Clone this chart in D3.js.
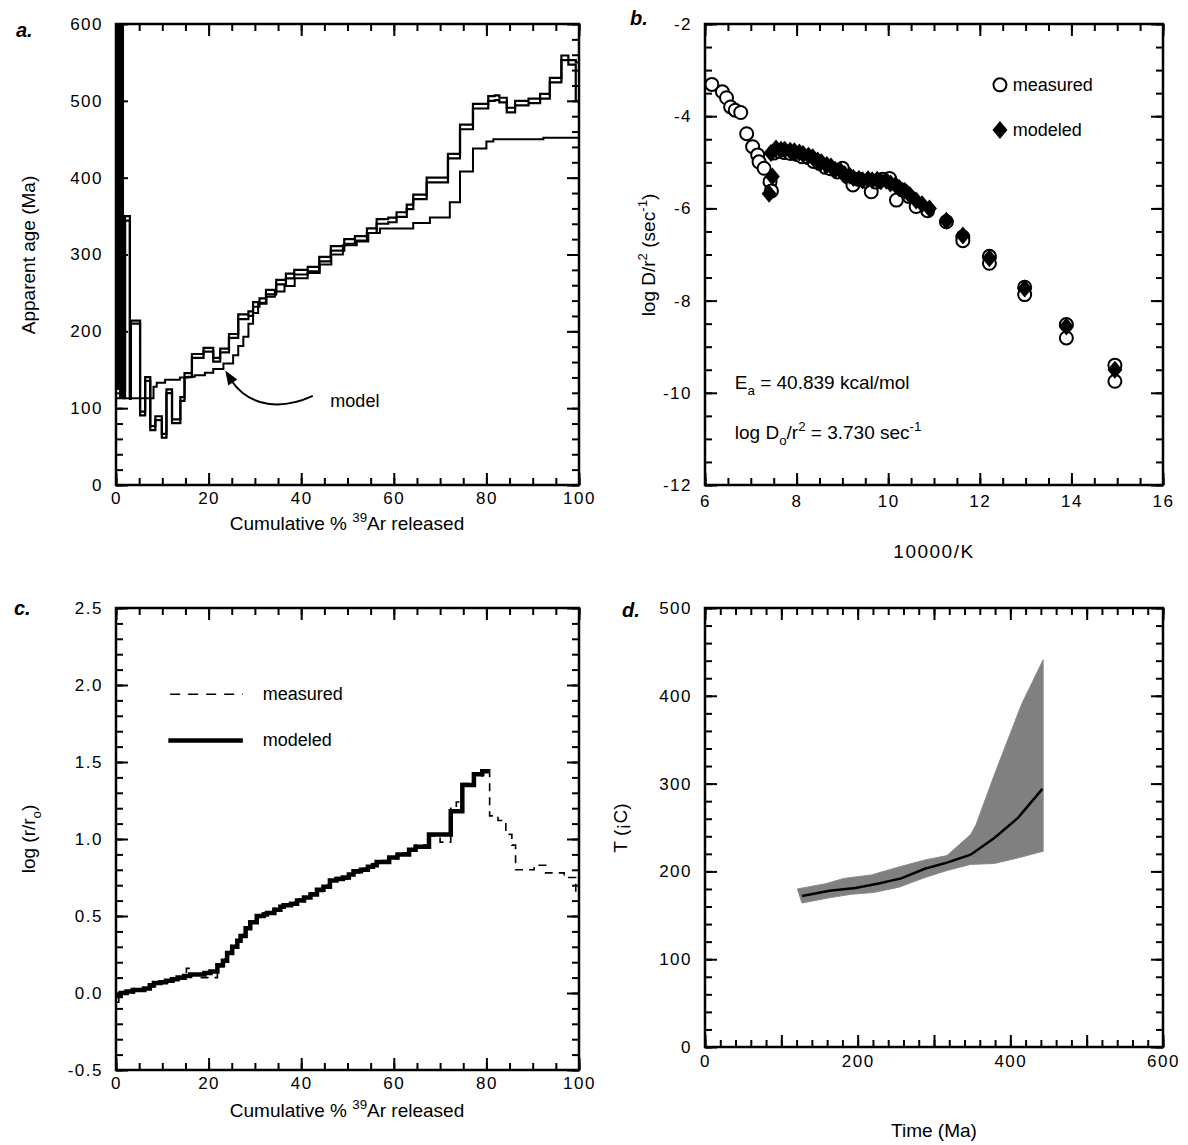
<!DOCTYPE html>
<html>
<head>
<meta charset="utf-8">
<script src="https://cdn.jsdelivr.net/npm/d3@7"></script>
<style>
  body { margin: 0; background: #fff; }
  text { font-family: "Liberation Sans", Arial, Helvetica, sans-serif; fill: #000; }
</style>
</head>
<body>
<script>

// ---------- Panel a: age spectrum ----------
// Measured steps: start of each step (cumulative % 39Ar), age (Ma), error (Ma)
var ageStepStart = [0, 0.15, 0.3, 0.45, 0.6, 0.75, 0.9, 1.05, 1.2, 1.35, 1.5, 1.65,
                    1.95, 3.0, 3.2, 5.2, 6.3, 7.4, 8.5, 9.9, 10.9, 12.1,
                    13.9, 14.8, 16.4, 18.9, 21.0, 22.5, 24.4, 26.4, 28.6, 29.6,
                    31.0, 32.4, 34.6, 36.7, 38.5, 41.4, 43.9, 46.4, 49.3, 51.6,
                    54.2, 56.3, 58.8, 60.6, 62.8, 64.2, 67.1, 71.7, 74.3, 77.1,
                    80.4, 81.8, 82.8, 84.4, 86.2, 89.1, 91.6, 93.7, 96.2, 97.7,
                    99.3];
var ageMeasured = [140, 1800, 135, 2500, 145, 1200, 130, 3000, 140, 900, 125, 116,
                   347, 114, 212, 93, 138, 74, 87, 64, 122, 83,
                   112, 143, 168, 176, 163, 175, 194, 219, 223, 235,
                   240, 251, 264, 272, 277, 281, 294, 308, 317, 321,
                   331, 343, 345, 352, 362, 375, 397, 428, 466, 493,
                   503, 504, 501, 488, 497, 500, 506, 527, 556, 550,
                   525];
var ageError = [8, 1600, 10, 2300, 5, 1000, 15, 2800, 8, 700, 10, 3,
                3, 2, 2, 2.5, 2.5, 2.5, 2.5, 2.5, 2.5, 2.5,
                2.5, 2.5, 2.5, 2.5, 2.5, 2.5, 2.5, 3, 3, 3,
                3, 3, 3, 3, 3, 3, 3, 3, 3, 3,
                3, 3, 3, 3, 3, 3, 3, 3, 3, 3,
                3, 3, 3, 3, 3, 3, 3, 3, 3, 3,
                25];
// Model spectrum
var modelStepStart = [0, 8.1, 8.8, 10.6, 13.8, 15.6, 17.0, 19.2, 21.0, 23.2,
                      25.3, 26.4, 27.5, 28.6, 29.6, 30.7, 32.5, 34.3, 36.4, 38.6,
                      41.4, 44.0, 46.5, 49.0, 52.0, 54.5, 57.0, 64.2, 67.8, 72.1,
                      74.3, 77.1, 80.0, 81.5, 92.3];
var modelAge = [113, 128, 133, 137, 140, 141, 143, 146, 151, 158,
                169, 181, 193, 210, 224, 236, 245, 252, 259, 269,
                276, 287, 300, 312, 317, 328, 334, 341, 348, 368,
                408, 438, 447, 450, 452];

// ---------- Panel b: Arrhenius plot ----------
var arrMeasuredX = [6.15, 6.38, 6.47, 6.56, 6.66, 6.78, 6.91, 7.04, 7.15, 7.18,
                    7.29, 7.42, 7.45, 7.50, 7.62, 7.74, 7.87, 8.01, 8.12, 8.26,
                    8.37, 8.51, 8.63, 8.74, 8.89, 9.00, 9.11, 9.23, 9.36, 9.49,
                    9.63, 9.74, 9.88, 10.03, 10.18, 10.31, 10.45, 10.61, 10.86, 11.27,
                    11.63, 11.63, 12.21, 12.21, 12.98, 12.98, 13.89, 13.89, 14.95, 14.95];
var arrMeasuredY = [-3.31, -3.47, -3.60, -3.80, -3.87, -3.92, -4.38, -4.66, -4.84, -4.99,
                    -5.13, -5.42, -5.62, -4.80, -4.76, -4.79, -4.81, -4.83, -4.88, -4.90,
                    -4.98, -5.03, -5.11, -5.14, -5.21, -5.13, -5.31, -5.49, -5.37, -5.41,
                    -5.64, -5.43, -5.37, -5.35, -5.82, -5.60, -5.74, -5.96, -6.05, -6.29,
                    -6.62, -6.70, -7.04, -7.19, -7.71, -7.87, -8.52, -8.81, -9.40, -9.75];
var arrModeledX = [7.40, 7.47, 7.44, 7.55, 7.66, 7.74, 7.86, 7.95, 8.06, 8.14,
                   8.26, 8.35, 8.46, 8.54, 8.66, 8.75, 8.84, 8.96, 9.05, 9.16,
                   9.24, 9.36, 9.44, 9.56, 9.65, 9.76, 9.84, 9.96, 10.05, 10.16,
                   10.24, 10.36, 10.47, 10.61, 10.74, 10.90, 11.27, 11.63, 12.21, 12.98,
                   13.89, 14.95];
var arrModeledY = [-5.68, -5.31, -4.80, -4.70, -4.73, -4.73, -4.75, -4.76, -4.79, -4.82,
                   -4.86, -4.89, -4.96, -5.00, -5.06, -5.09, -5.16, -5.19, -5.26, -5.29,
                   -5.34, -5.36, -5.39, -5.37, -5.39, -5.38, -5.41, -5.40, -5.46, -5.49,
                   -5.56, -5.62, -5.71, -5.83, -5.91, -6.00, -6.27, -6.59, -7.08, -7.74,
                   -8.56, -9.50];

// ---------- Panel c: log(r/ro) ----------
var radModeledStart = [0, 1.0, 2.3, 3.6, 5.0, 6.1, 7.3, 8.2, 9.6, 10.8,
                       12.1, 13.3, 14.7, 16.0, 17.6, 19.1, 20.4, 21.9, 23.1, 24.0,
                       25.1, 26.2, 26.9, 28.0, 29.0, 30.4, 31.9, 32.6, 34.2, 35.5,
                       36.2, 37.8, 39.1, 40.6, 42.0, 43.4, 44.8, 46.2, 47.6, 49.0,
                       50.3, 51.3, 52.9, 54.4, 55.5, 56.3, 57.6, 59.0, 60.8, 63.3,
                       64.7, 67.6, 72.3, 74.8, 77.3, 79.1];
var radModeled = [-0.02, 0.00, 0.01, 0.02, 0.02, 0.03, 0.05, 0.065, 0.07, 0.08,
                  0.09, 0.10, 0.11, 0.12, 0.12, 0.13, 0.14, 0.18, 0.21, 0.26,
                  0.30, 0.34, 0.37, 0.42, 0.46, 0.50, 0.51, 0.52, 0.54, 0.56,
                  0.57, 0.58, 0.60, 0.62, 0.64, 0.67, 0.69, 0.73, 0.74, 0.75,
                  0.77, 0.79, 0.80, 0.82, 0.83, 0.85, 0.85, 0.88, 0.90, 0.93,
                  0.95, 1.03, 1.18, 1.35, 1.42, 1.44];
var radModeledEnd = 80.7;
var radMeasuredStart = [0, 0.6, 1.5, 2.8, 4.0, 5.5, 7.0, 8.3, 9.5, 11.0,
                        12.5, 14.0, 15.2, 16.0, 17.5, 19.0, 20.5, 21.9, 23.1, 24.0,
                        25.1, 26.2, 26.9, 28.0, 29.0, 30.4, 31.9, 32.6, 34.2, 35.5,
                        36.2, 37.8, 39.1, 40.6, 42.0, 43.4, 44.8, 46.2, 47.6, 49.0,
                        50.3, 51.3, 52.9, 54.4, 55.5, 56.3, 57.6, 59.0, 60.8, 63.3,
                        64.7, 67.6, 70.0, 72.3, 73.5, 74.8, 77.3, 79.1, 80.7, 82.5,
                        84.2, 85.5, 86.3, 90.3, 92.8, 96.8, 99.3];
var radMeasured = [-0.06, 0.00, 0.01, 0.00, 0.03, 0.02, 0.04, 0.07, 0.08, 0.07,
                   0.10, 0.09, 0.16, 0.12, 0.10, 0.10, 0.10, 0.17, 0.22, 0.25,
                   0.31, 0.33, 0.38, 0.41, 0.47, 0.49, 0.52, 0.51, 0.55, 0.55,
                   0.58, 0.57, 0.61, 0.61, 0.65, 0.66, 0.70, 0.72, 0.75, 0.74,
                   0.78, 0.78, 0.81, 0.81, 0.84, 0.84, 0.86, 0.87, 0.91, 0.92,
                   0.96, 1.02, 0.98, 1.20, 1.24, 1.36, 1.41, 1.45, 1.15, 1.12,
                   1.03, 0.96, 0.80, 0.83, 0.78, 0.75, 0.65];
var radMeasuredEnd = 100;

// ---------- Panel d: thermal history ----------
var histTime = [127, 163, 197, 226, 257, 288, 317, 348, 379, 410, 442];
var histTemp = [172, 178, 181, 186, 192, 203, 210, 219, 238, 261, 294];
var bandUpperTime = [121, 158, 182, 218, 254, 288, 317, 348, 355, 379, 415, 443];
var bandUpperTemp = [180, 186, 192, 196, 205, 213, 218, 242, 253, 310, 391, 441];
var bandLowerTime = [127, 163, 192, 221, 254, 288, 317, 348, 379, 413, 443];
var bandLowerTemp = [164, 170, 174, 176, 182, 193, 201, 208, 209, 216, 223];


var svg = d3.select("body").append("svg")
            .attr("width", 1188)
            .attr("height", 1145);

var font = '"Liberation Sans", Arial, Helvetica, sans-serif';

// Create scales, clip and group for one panel
function makePanel(id, box, xDomain, yDomain) {
  var x = d3.scaleLinear().domain(xDomain).range([box.left, box.right]);
  var y = d3.scaleLinear().domain(yDomain).range([box.bottom, box.top]);
  var g = svg.append("g").attr("id", "panel_" + id);
  g.append("clipPath")
   .attr("id", "clip_" + id)
   .append("rect")
   .attr("x", box.left)
   .attr("y", box.top)
   .attr("width", box.right - box.left)
   .attr("height", box.bottom - box.top);
  var plot = g.append("g").attr("clip-path", "url(#clip_" + id + ")");
  return {x: x, y: y, g: g, plot: plot, box: box};
}

// One row of ticks on one side of the frame (ticks point inward)
function addTicks(p, side, values, size, format, pad) {
  var b = p.box;
  var gen, pos, scale;
  if (side == "bottom") { gen = d3.axisBottom; pos = [0, b.bottom]; scale = p.x; }
  if (side == "top")    { gen = d3.axisTop;    pos = [0, b.top];    scale = p.x; }
  if (side == "left")   { gen = d3.axisLeft;   pos = [b.left, 0];   scale = p.y; }
  if (side == "right")  { gen = d3.axisRight;  pos = [b.right, 0];  scale = p.y; }
  var axis = gen(scale)
      .tickValues(values)
      .tickSize(-size)
      .tickPadding(pad || 0)
      .tickFormat(format || "");
  var a = p.g.append("g")
             .attr("transform", "translate(" + pos[0] + "," + pos[1] + ")")
             .call(axis);
  // axis() sets its own font, so override it after the call
  a.attr("font-family", font).attr("font-size", 17);
  a.select(".domain").remove();
  a.selectAll("line").attr("stroke", "#000").attr("stroke-width", 2);
  a.selectAll("text").attr("fill", "#000").style("letter-spacing", "1.5px");
  return a;
}

// Frame and all ticks of a panel
function drawFrame(p, o) {
  ["bottom", "top"].forEach(function(s) {
    addTicks(p, s, o.xMinor, 7);
    addTicks(p, s, o.xMajor, 12, s == "bottom" ? o.xFormat : null, o.xPad);
  });
  ["left", "right"].forEach(function(s) {
    addTicks(p, s, o.yMinor, 7);
    addTicks(p, s, o.yMajor, 12, s == "left" ? o.yFormat : null, o.yPad);
  });
  var b = p.box;
  p.g.append("rect")
     .attr("x", b.left).attr("y", b.top)
     .attr("width", b.right - b.left).attr("height", b.bottom - b.top)
     .attr("fill", "none").attr("stroke", "#000").attr("stroke-width", 2.5);
}

// Points for a step line: [start, value] plus the closing point
function stepPoints(starts, values, end) {
  var pts = starts.map(function(s, i) { return [s, values[i]]; });
  pts.push([end, values[values.length - 1]]);
  return pts;
}

function addText(parent, x, y, parts, size, anchor, rotate) {
  var t = parent.append("text")
                .attr("x", x).attr("y", y)
                .attr("font-size", size)
                .attr("text-anchor", anchor || "start");
  if (rotate) t.attr("transform", "rotate(" + rotate + "," + x + "," + y + ")");
  // parts: [text, shift] where shift < 0 is superscript, > 0 is subscript
  var last = 0;
  parts.forEach(function(pt) {
    var shift = pt[1] || 0;
    t.append("tspan")
     .attr("dy", shift - last)
     .attr("font-size", shift ? size * 0.7 : size)
     .text(pt[0]);
    last = shift;
  });
  return t;
}

function range(a, b, step) {
  return d3.range(a, b + step / 2, step).map(function(v) { return +v.toFixed(4); });
}

var intFormat = function(d) { return String(d); };

// ================= Panel a =================
var pa = makePanel("a", {left: 116, right: 579, top: 24, bottom: 485}, [0, 100], [0, 600]);

var line_a = d3.line()
    .x(function(d) { return pa.x(d[0]); })
    .y(function(d) { return pa.y(d[1]); })
    .curve(d3.curveStepAfter);

var upper = ageMeasured.map(function(v, i) { return v + ageError[i]; });
var lower = ageMeasured.map(function(v, i) { return v - ageError[i]; });

pa.plot.append("path")
   .datum(stepPoints(modelStepStart, modelAge, 100))
   .attr("d", line_a)
   .attr("fill", "none").attr("stroke", "#000").attr("stroke-width", 2);
[upper, lower].forEach(function(vals) {
  pa.plot.append("path")
     .datum(stepPoints(ageStepStart, vals, 100))
     .attr("d", line_a)
     .attr("fill", "none").attr("stroke", "#000").attr("stroke-width", 2.2);
});

drawFrame(pa, {xMajor: range(0, 100, 20), xMinor: range(0, 100, 5),
               yMajor: range(0, 600, 100), yMinor: range(0, 600, 20),
               xFormat: intFormat, yFormat: intFormat, xPad: 7, yPad: 13});

// model annotation with curved arrow
var arrowPath = d3.path();
arrowPath.moveTo(pa.x(42.5), pa.y(116));
arrowPath.bezierCurveTo(pa.x(36), pa.y(98), pa.x(29), pa.y(100), pa.x(24.9), pa.y(136));
pa.g.append("path").attr("d", arrowPath.toString())
    .attr("fill", "none").attr("stroke", "#000").attr("stroke-width", 2);
var tipX = pa.x(23.6), tipY = pa.y(149);
pa.g.append("path")
    .attr("d", "M" + tipX + "," + tipY + "L" + (tipX + 3) + "," + (tipY + 15) +
               "L" + (tipX + 12) + "," + (tipY + 9) + "Z")
    .attr("fill", "#000");
addText(pa.g, pa.x(46.3), pa.y(102), [["model"]], 18);

addText(svg, 16, 37, [["a."]], 20).attr("font-weight", "bold").attr("font-style", "italic");
addText(svg, 35, 255, [["Apparent age (Ma)"]], 19, "middle", -90);
addText(svg, 347, 530, [["Cumulative % "], ["39", -8], ["Ar released"]], 19, "middle");

// ================= Panel b =================
var pb = makePanel("b", {left: 705, right: 1163, top: 24, bottom: 485}, [6, 16], [-12, -2]);

pb.plot.selectAll("circle.meas")
   .data(d3.zip(arrMeasuredX, arrMeasuredY))
   .enter().append("circle")
   .attr("class", "meas")
   .attr("cx", function(d) { return pb.x(d[0]); })
   .attr("cy", function(d) { return pb.y(d[1]); })
   .attr("r", 6.5)
   .attr("fill", "#fff").attr("stroke", "#000").attr("stroke-width", 2);

var diamond = "M0,-9L7.5,0L0,9L-7.5,0Z";
pb.plot.selectAll("path.mod")
   .data(d3.zip(arrModeledX, arrModeledY))
   .enter().append("path")
   .attr("class", "mod")
   .attr("d", diamond)
   .attr("transform", function(d) { return "translate(" + pb.x(d[0]) + "," + pb.y(d[1]) + ")"; })
   .attr("fill", "#000");

drawFrame(pb, {xMajor: range(6, 16, 2), xMinor: range(6, 16, 0.5),
               yMajor: range(-12, -2, 2), yMinor: range(-12, -2, 0.5),
               xFormat: intFormat, yFormat: intFormat, xPad: 10, yPad: 13});

// legend
pb.g.append("circle").attr("cx", pb.x(12.44)).attr("cy", pb.y(-3.32)).attr("r", 6.5)
    .attr("fill", "#fff").attr("stroke", "#000").attr("stroke-width", 2);
addText(pb.g, pb.x(12.72), pb.y(-3.32) + 6, [["measured"]], 18);
pb.g.append("path").attr("d", diamond)
    .attr("transform", "translate(" + pb.x(12.44) + "," + pb.y(-4.3) + ")")
    .attr("fill", "#000");
addText(pb.g, pb.x(12.72), pb.y(-4.3) + 6, [["modeled"]], 18);

addText(pb.g, pb.x(6.65), pb.y(-9.92),
        [["E"], ["a", 6], [" = 40.839 kcal/mol"]], 19);
addText(pb.g, pb.x(6.65), pb.y(-11.0),
        [["log D"], ["o", 6], ["/r"], ["2", -8], [" = 3.730 sec"], ["-1", -8]], 19);

addText(svg, 630, 25, [["b."]], 20).attr("font-weight", "bold").attr("font-style", "italic");
addText(svg, 655, 255, [["log D/r"], ["2", -8], [" (sec"], ["-1", -8], [")"]], 19, "middle", -90);
addText(svg, 934, 558, [["10000/K"]], 19, "middle").style("letter-spacing", "1.5px");

// ================= Panel c =================
var pc = makePanel("c", {left: 116, right: 579, top: 608, bottom: 1070}, [0, 100], [-0.5, 2.5]);

var line_c = d3.line()
    .x(function(d) { return pc.x(d[0]); })
    .y(function(d) { return pc.y(d[1]); })
    .curve(d3.curveStepAfter);

pc.plot.append("path")
   .datum(stepPoints(radMeasuredStart, radMeasured, radMeasuredEnd))
   .attr("d", line_c)
   .attr("fill", "none").attr("stroke", "#000").attr("stroke-width", 1.6)
   .attr("stroke-dasharray", "8,6");
pc.plot.append("path")
   .datum(stepPoints(radModeledStart, radModeled, radModeledEnd))
   .attr("d", line_c)
   .attr("fill", "none").attr("stroke", "#000").attr("stroke-width", 4.5);

drawFrame(pc, {xMajor: range(0, 100, 20), xMinor: range(0, 100, 5),
               yMajor: range(-0.5, 2.5, 0.5), yMinor: range(-0.5, 2.5, 0.1),
               xFormat: intFormat, yFormat: function(d) { return d.toFixed(1); },
               xPad: 7, yPad: 13});

// legend
pc.g.append("line")
    .attr("x1", pc.x(11.7)).attr("x2", pc.x(27.4))
    .attr("y1", pc.y(1.94)).attr("y2", pc.y(1.94))
    .attr("stroke", "#000").attr("stroke-width", 1.6).attr("stroke-dasharray", "10,8");
addText(pc.g, pc.x(31.7), pc.y(1.94) + 6, [["measured"]], 18);
pc.g.append("line")
    .attr("x1", pc.x(11.3)).attr("x2", pc.x(27.4))
    .attr("y1", pc.y(1.64)).attr("y2", pc.y(1.64))
    .attr("stroke", "#000").attr("stroke-width", 4.5);
addText(pc.g, pc.x(31.7), pc.y(1.64) + 6, [["modeled"]], 18);

addText(svg, 14, 615, [["c."]], 20).attr("font-weight", "bold").attr("font-style", "italic");
addText(svg, 35, 839, [["log (r/r"], ["o", 6], [")"]], 19, "middle", -90);
addText(svg, 347, 1117, [["Cumulative % "], ["39", -8], ["Ar released"]], 19, "middle");

// ================= Panel d =================
var pd = makePanel("d", {left: 705, right: 1163, top: 608, bottom: 1047}, [0, 600], [0, 500]);

var line_d = d3.line()
    .x(function(d) { return pd.x(d[0]); })
    .y(function(d) { return pd.y(d[1]); });

var bandPts = d3.zip(bandUpperTime, bandUpperTemp)
                .concat(d3.zip(bandLowerTime, bandLowerTemp).reverse());
pd.plot.append("path")
   .datum(bandPts)
   .attr("d", function(d) { return line_d(d) + "Z"; })
   .attr("fill", "#808080").attr("stroke", "#8a8a8a").attr("stroke-width", 1);
pd.plot.append("path")
   .datum(d3.zip(histTime, histTemp))
   .attr("d", line_d)
   .attr("fill", "none").attr("stroke", "#000").attr("stroke-width", 2.5);

drawFrame(pd, {xMajor: range(0, 600, 100), xMinor: range(0, 600, 20),
               yMajor: range(0, 500, 100), yMinor: range(0, 500, 20),
               xFormat: function(d) { return d % 200 == 0 ? String(d) : ""; },
               yFormat: intFormat, xPad: 8, yPad: 13});

addText(svg, 622, 617, [["d."]], 20).attr("font-weight", "bold").attr("font-style", "italic");
addText(svg, 627, 828, [["T (¡C)"]], 19, "middle", -90);
addText(svg, 934, 1137, [["Time (Ma)"]], 19, "middle");

</script>
</body>
</html>
